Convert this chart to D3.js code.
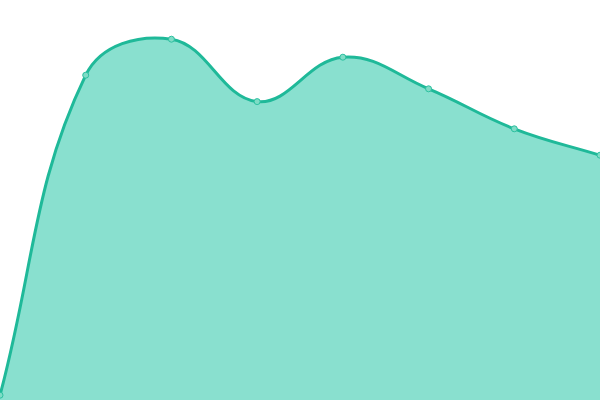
<!DOCTYPE html>
<html>
<head>
<meta charset="utf-8">
<script src="https://cdn.jsdelivr.net/npm/d3@7"></script>
<style>
  html, body { margin: 0; padding: 0; background: #fff; }
  svg { display: block; }
</style>
</head>
<body>
<div id="chart"></div>
<script>
var categories = ["A", "B", "C", "D", "E", "F", "G", "H"];
var values = [1.2, 81.2, 90.2, 74.6, 85.7, 77.8, 67.8, 61.2];

var width = 600,
    height = 400;

// spline with distance weighted control points (tension 0.4)
function Spline(context, tension) {
    this._context = context;
    this._t = tension;
}
Spline.prototype = {
    areaStart: function() { this._line = 0; },
    areaEnd: function() { this._line = NaN; },
    lineStart: function() { this._pts = []; },
    point: function(x, y) { this._pts.push([+x, +y]); },
    lineEnd: function() {
        var p = this._pts, n = p.length, c = this._context, t = this._t;
        if (n) {
            if (this._line) c.lineTo(p[0][0], p[0][1]);
            else c.moveTo(p[0][0], p[0][1]);
        }
        if (n === 2) {
            c.lineTo(p[1][0], p[1][1]);
        } else if (n > 2) {
            var cpIn = [], cpOut = [];
            for (var i = 0; i < n; i++) {
                var prev = p[i - 1] || p[i],
                    cur = p[i],
                    next = p[i + 1] || p[i];
                var d01 = Math.hypot(cur[0] - prev[0], cur[1] - prev[1]),
                    d12 = Math.hypot(next[0] - cur[0], next[1] - cur[1]);
                var s01 = d01 / (d01 + d12) || 0,
                    s12 = d12 / (d01 + d12) || 0;
                var fa = t * s01, fb = t * s12;
                var dx = next[0] - prev[0], dy = next[1] - prev[1];
                cpIn.push([clampX(cur[0] - fa * dx), clampY(cur[1] - fa * dy)]);
                cpOut.push([clampX(cur[0] + fb * dx), clampY(cur[1] + fb * dy)]);
            }
            for (var j = 1; j < n; j++) {
                c.bezierCurveTo(cpOut[j - 1][0], cpOut[j - 1][1],
                                cpIn[j][0], cpIn[j][1],
                                p[j][0], p[j][1]);
            }
        }
        if (this._line || (this._line !== 0 && n === 1)) c.closePath();
        this._line = 1 - this._line;
    }
};
function clampX(v) { return Math.max(0, Math.min(width, v)); }
function clampY(v) { return Math.max(0, Math.min(height, v)); }
var curveSpline = function(context) { return new Spline(context, 0.4); };

var svg = d3.select("#chart")
            .append("svg")
              .attr("width", width)
              .attr("height", height);

var x = d3.scalePoint()
          .domain(categories)
          .range([0, width]);

var y = d3.scaleLinear()
          .domain([0, 100])
          .range([height, 0]);

var area = d3.area()
    .x(function(d, i) { return x(categories[i]); })
    .y0(height)
    .y1(function(d) { return y(d); })
    .curve(curveSpline);

var line = d3.line()
    .x(function(d, i) { return x(categories[i]); })
    .y(function(d) { return y(d); })
    .curve(curveSpline);

svg.append("path")
    .datum(values)
    .attr("d", area)
    .style("fill", "#89e0cf");

svg.append("path")
    .datum(values)
    .attr("d", line)
    .style("fill", "none")
    .style("stroke", "#1fb999")
    .style("stroke-width", 3);

svg.selectAll("circle")
    .data(values)
    .enter().append("circle")
      .attr("cx", function(d, i) { return x(categories[i]); })
      .attr("cy", function(d) { return y(d); })
      .attr("r", 3)
      .style("fill", "#7fdcc6")
      .style("stroke", "#2cc0a0")
      .style("stroke-width", 1);
</script>
</body>
</html>
